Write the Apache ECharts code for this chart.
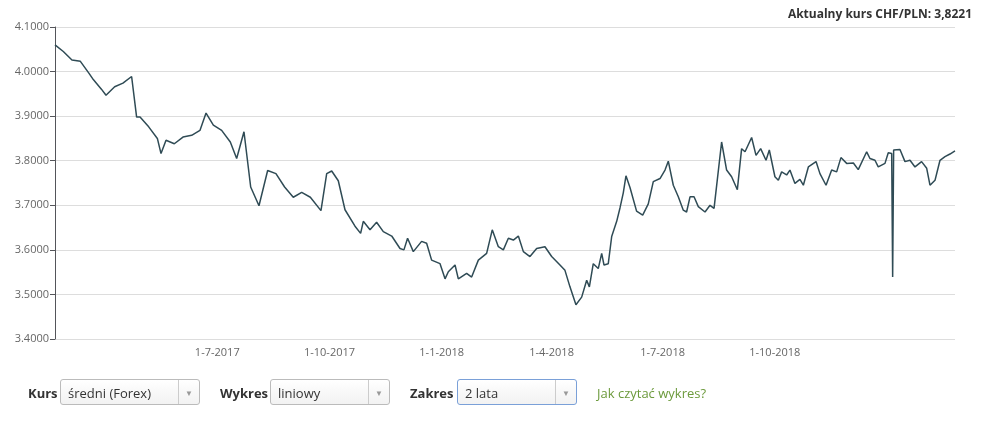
<!DOCTYPE html>
<html>
<head>
<meta charset="utf-8">
<script src="https://cdn.jsdelivr.net/npm/echarts@6/dist/echarts.min.js"></script>
<style>
  body { margin: 0; font-family: "Open Sans", sans-serif; }
  #chart { position: absolute; left: 0; top: 0; width: 989px; height: 436px; }
  .lbl { position: absolute; top: 384px; font-size: 13px; font-weight: bold; color: #333; }
  .sel { position: absolute; top: 379px; height: 26px; border: 1px solid #bbb; border-radius: 3px;
         background: linear-gradient(#fff, #f2f2f2); font-size: 13px; color: #333; line-height: 26px; padding-left: 7px; box-sizing: border-box; }
  .sel .arr { position: absolute; right: 0; top: 0; width: 20px; height: 24px; border-left: 1px solid #ccc;
              color: #999; font-size: 8px; text-align: center; line-height: 26px; }
</style>
</head>
<body>
<div id="chart"></div>
<div class="lbl" style="left:28px">Kurs</div>
<div class="sel" style="left:60px;width:140px">średni (Forex)<div class="arr">▼</div></div>
<div class="lbl" style="left:220px">Wykres</div>
<div class="sel" style="left:270px;width:120px">liniowy<div class="arr">▼</div></div>
<div class="lbl" style="left:410px">Zakres</div>
<div class="sel" style="left:457px;width:120px;border-color:#7aa0d8">2 lata<div class="arr">▼</div></div>
<div class="lbl" style="left:597px;font-weight:normal;color:#6c9a3c">Jak czytać wykres?</div>
<script>
// days since 2017-02-18 and CHF/PLN rate
var days = [0,6.8,13.9,20.8,27.9,31.4,38.2,41.8,48.9,55.7,62.8,66.9,69.7,76.8,83.9,86.9,91,97.8,104.9,112,118.8,123.8,129.8,136.6,143.7,148.9,154.9,160.4,167.2,174.3,181.1,188.2,195.3,202.2,209.3,218,222.7,
  226.8,232.2,237.7,245.9,250.5,252.7,258.2,263.6,269.1,276,282.8,286,289,293.7,300.5,304.6,308.7,315.6,319.7,322.4,327.9,330.6,337.4,341.5,347,353.8,358.4,363.4,367.5,371.6,375.7,379.8,383.9,389.3,394.8,401.6,407.1,413.9,418,422.1,427,431.7,435.8,438,441.2,445.3,448.1,450,453.5,456.3,460.4,463.1,465.8,468,471.3,476.7,
  481.7,486.3,490.4,495.9,500,502.7,506.8,510.9,515,517.7,520.5,523.8,527.3,532.8,536.9,540.2,546.4,550.5,554.6,559.3,562.8,565.6,571,574.6,578.4,582.8,585.5,590.1,592.9,595.6,599.7,602.4,606.5,610.6,613.4,617.5,623.8,627,632,636.6,640.7,644.2,648.9,654.4,658.4,665.3,668,672.1,674.8,680.3,683,685.8,686.6,687.4,692.6,696.7,700.8,704.9,710.3,714.5,717.2,721.3,725.4,729.5,733.6,737.7];
var rates = [4.060,4.045,4.026,4.023,3.996,3.982,3.960,3.947,3.966,3.974,3.989,3.898,3.898,3.876,3.850,3.816,3.846,3.838,3.853,3.857,3.868,3.907,3.880,3.868,3.842,3.805,3.865,3.741,3.699,3.778,3.771,3.741,3.718,3.729,3.718,3.688,3.771,
  3.777,3.755,3.690,3.653,3.637,3.664,3.645,3.662,3.641,3.631,3.603,3.600,3.626,3.596,3.619,3.615,3.577,3.569,3.535,3.551,3.566,3.535,3.547,3.539,3.577,3.592,3.645,3.607,3.600,3.626,3.622,3.631,3.596,3.585,3.603,3.607,3.585,3.566,3.554,3.517,3.477,3.494,3.532,3.517,3.569,3.558,3.592,3.566,3.569,3.630,3.664,3.694,3.728,3.766,3.740,3.687,
  3.678,3.703,3.753,3.760,3.779,3.799,3.745,3.719,3.689,3.685,3.719,3.719,3.697,3.685,3.700,3.693,3.842,3.779,3.764,3.735,3.827,3.820,3.852,3.812,3.827,3.801,3.824,3.764,3.756,3.775,3.768,3.779,3.749,3.758,3.745,3.786,3.798,3.771,3.745,3.779,3.775,3.807,3.794,3.795,3.780,3.820,3.805,3.801,3.786,3.794,3.818,3.816,3.539,3.824,3.825,3.798,3.801,3.786,3.798,3.783,3.745,3.756,3.801,3.809,3.815,3.822];
var tickDates = ['2017-04-01','2017-07-01','2017-10-01','2018-01-01','2018-04-01','2018-07-01','2018-10-01','2019-01-01'];

var start = Date.UTC(2017, 1, 18);
var dayMs = 86400000;
var ticks = tickDates.map(function (s) { return Date.parse(s + 'T00:00:00Z'); });

var chart = echarts.init(document.getElementById('chart'));
chart.setOption({
    animation: false,
    title: {
        right: 12, top: 4,
        text: 'Aktualny kurs CHF/PLN: 3,8221',
        textStyle: { fontSize: 12, fontWeight: 'bold', color: '#333', fontFamily: 'Open Sans' }
    },
    grid: { left: 55, right: 34, top: 27, bottom: 97, containLabel: false },
    xAxis: {
        type: 'value',
        min: start,
        max: start + 737.7 * dayMs,
        axisLine: { show: false },
        axisTick: { show: false },
        splitLine: { show: false },
        axisLabel: {
            customValues: ticks,
            showMinLabel: false, showMaxLabel: false,
            color: '#666', fontSize: 11, fontFamily: 'Open Sans', margin: 8,
            formatter: function (v) {
                var d = new Date(v);
                return d.getUTCDate() + '-' + (d.getUTCMonth() + 1) + '-' + d.getUTCFullYear();
            }
        }
    },
    yAxis: {
        type: 'value',
        min: 3.4, max: 4.1, interval: 0.1,
        axisLabel: {
            color: '#666', fontSize: 11, fontFamily: 'Open Sans', margin: 6,
            formatter: function (v) { return v.toFixed(4); }
        },
        splitLine: { lineStyle: { color: '#ddd' } }
    },
    series: [{
        type: 'line',
        data: days.map(function (d, i) { return [start + d * dayMs, rates[i]]; }),
        showSymbol: false,
        lineStyle: { color: '#2f4b55', width: 1.5 }
    }]
});
</script>
</body>
</html>
